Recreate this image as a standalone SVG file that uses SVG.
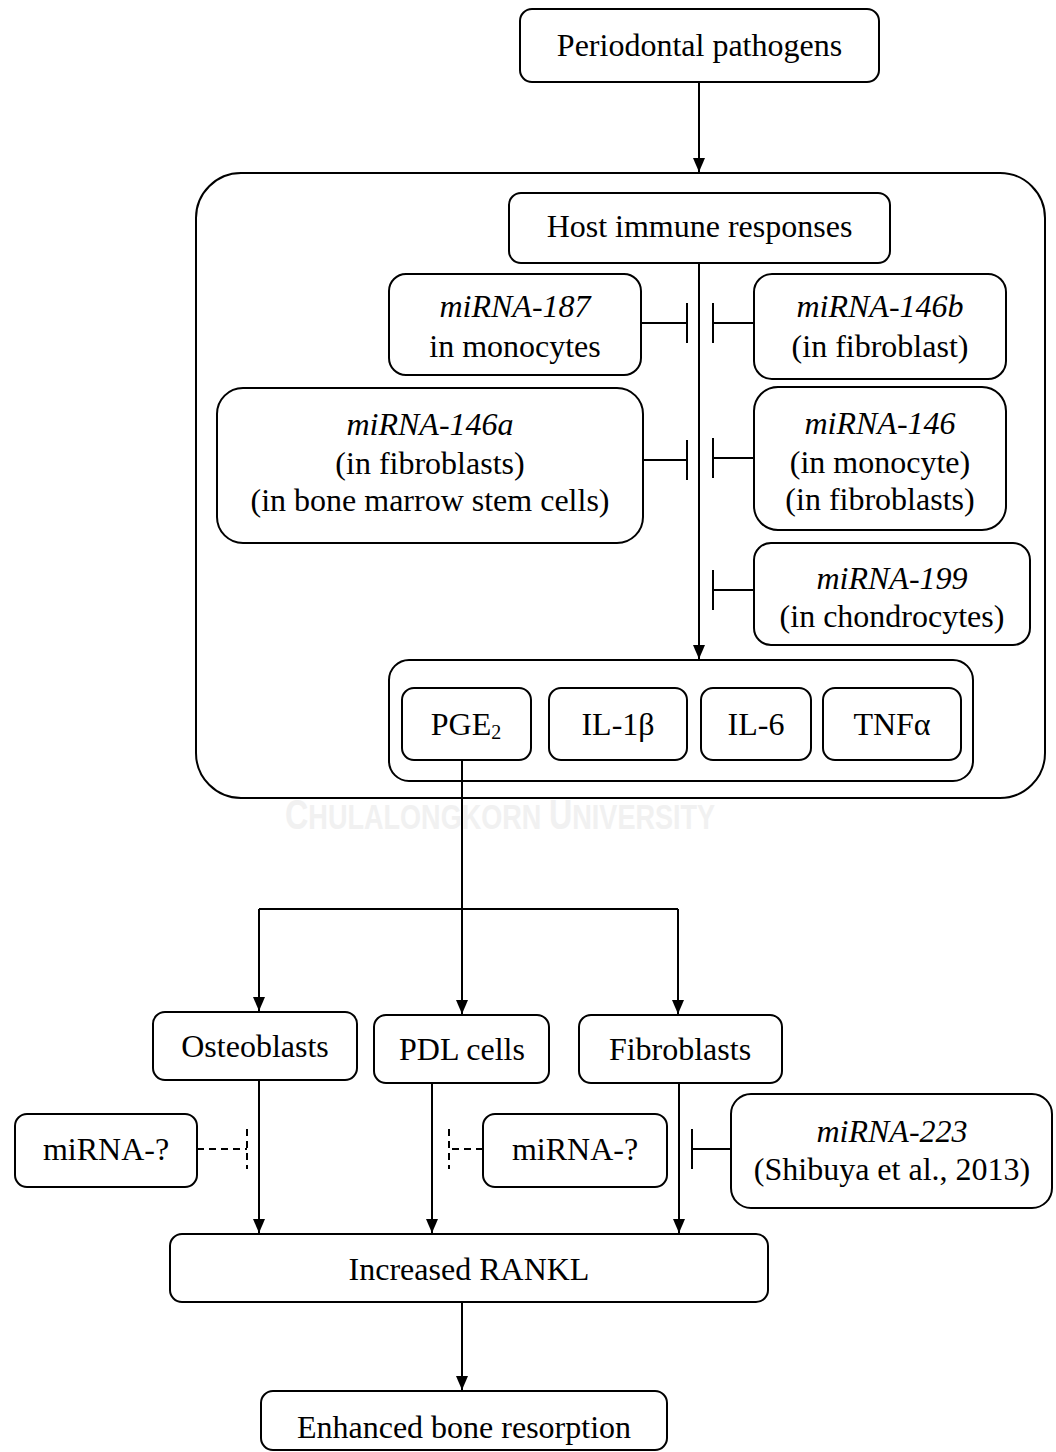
<svg xmlns="http://www.w3.org/2000/svg" width="1056" height="1452" viewBox="0 0 1056 1452">
<style>
.box{fill:#fff;stroke:#000;stroke-width:2}
.frame{fill:none;stroke:#000;stroke-width:2}
.t{font-family:"Liberation Serif","Times New Roman",serif;font-size:32px;fill:#000;text-anchor:middle}
.i{font-style:italic}
.ln{stroke:#000;stroke-width:2;fill:none}
.ds{stroke:#000;stroke-width:2;fill:none;stroke-dasharray:7,5}
.wm{font-family:"Liberation Sans",Arial,sans-serif;font-weight:bold;fill:#f1f1f1}
</style>
<defs>
<marker id="ah" markerWidth="14" markerHeight="18" refX="14" refY="6" orient="auto" markerUnits="userSpaceOnUse" viewBox="0 0 14 12">
<path d="M0,0 L14,6 L0,12 Z" fill="#000"/>
</marker>
</defs>
<rect width="1056" height="1452" fill="#fff"/>
<text class="wm" transform="translate(285,829) scale(0.752,1)" x="0" y="0"><tspan font-size="43">C</tspan><tspan font-size="36">HULALONGKORN </tspan><tspan font-size="43">U</tspan><tspan font-size="36">NIVERSITY</tspan></text>

<g id="container-host">
<rect class="frame" x="196" y="173" width="849" height="625" rx="45"/>
</g>
<g id="container-cytokines">
<rect class="box" x="389" y="660" width="584" height="121" rx="20"/>
</g>

<g id="connectors">
<line class="ln" x1="699" y1="82" x2="699" y2="172" marker-end="url(#ah)"/>
<line class="ln" x1="699" y1="263" x2="699" y2="659" marker-end="url(#ah)"/>
<path class="ln" d="M641,323 H687 M687,303 V343"/>
<path class="ln" d="M754,323 H713 M713,303 V343"/>
<path class="ln" d="M643,460 H687 M687,440 V480"/>
<path class="ln" d="M754,458 H713 M713,438 V478"/>
<path class="ln" d="M754,590 H713 M713,570 V610"/>
<line class="ln" x1="462" y1="760" x2="462" y2="1014" marker-end="url(#ah)"/>
<path class="ln" d="M259,909 H678"/>
<line class="ln" x1="259" y1="909" x2="259" y2="1011" marker-end="url(#ah)"/>
<line class="ln" x1="678" y1="909" x2="678" y2="1014" marker-end="url(#ah)"/>
<line class="ln" x1="259" y1="1080" x2="259" y2="1233" marker-end="url(#ah)"/>
<line class="ln" x1="432" y1="1083" x2="432" y2="1233" marker-end="url(#ah)"/>
<line class="ln" x1="679" y1="1083" x2="679" y2="1233" marker-end="url(#ah)"/>
<path class="ds" d="M197,1149 H247"/>
<path class="ds" d="M247,1129 V1169"/>
<path class="ds" d="M483,1149 H449"/>
<path class="ds" d="M449,1129 V1169"/>
<path class="ln" d="M731,1149 H692 M692,1129 V1169"/>
<line class="ln" x1="462" y1="1302" x2="462" y2="1390" marker-end="url(#ah)"/>
</g>

<g id="periodontal-pathogens">
<rect class="box" x="520" y="9" width="359" height="73" rx="12"/>
<text class="t" x="699.5" y="56">Periodontal pathogens</text>
</g>
<g id="host-immune-responses">
<rect class="box" x="509" y="193" width="381" height="70" rx="12"/>
<text class="t" x="699.5" y="237">Host immune responses</text>
</g>
<g id="mirna-187">
<rect class="box" x="389" y="274" width="252" height="101" rx="17"/>
<text class="t i" x="515" y="317">miRNA-187</text>
<text class="t" x="515" y="357">in monocytes</text>
</g>
<g id="mirna-146b">
<rect class="box" x="754" y="274" width="252" height="105" rx="18"/>
<text class="t i" x="880" y="317">miRNA-146b</text>
<text class="t" x="880" y="357">(in fibroblast)</text>
</g>
<g id="mirna-146a">
<rect class="box" x="217" y="388" width="426" height="155" rx="26"/>
<text class="t i" x="430" y="435">miRNA-146a</text>
<text class="t" x="430" y="474">(in fibroblasts)</text>
<text class="t" x="430" y="511">(in bone marrow stem cells)</text>
</g>
<g id="mirna-146">
<rect class="box" x="754" y="387" width="252" height="143" rx="24"/>
<text class="t i" x="880" y="434">miRNA-146</text>
<text class="t" x="880" y="473">(in monocyte)</text>
<text class="t" x="880" y="510">(in fibroblasts)</text>
</g>
<g id="mirna-199">
<rect class="box" x="754" y="543" width="276" height="102" rx="17"/>
<text class="t i" x="892" y="589">miRNA-199</text>
<text class="t" x="892" y="627">(in chondrocytes)</text>
</g>
<g id="pge2">
<rect class="box" x="402" y="688" width="129" height="72" rx="12"/>
<text class="t" x="466" y="735">PGE<tspan font-size="20" dy="4">2</tspan></text>
</g>
<g id="il-1b">
<rect class="box" x="549" y="688" width="138" height="72" rx="12"/>
<text class="t" x="618" y="735">IL-1β</text>
</g>
<g id="il-6">
<rect class="box" x="701" y="688" width="110" height="72" rx="12"/>
<text class="t" x="756" y="735">IL-6</text>
</g>
<g id="tnfa">
<rect class="box" x="823" y="688" width="138" height="72" rx="12"/>
<text class="t" x="892" y="735">TNFα</text>
</g>
<g id="osteoblasts">
<rect class="box" x="153" y="1012" width="204" height="68" rx="12"/>
<text class="t" x="255" y="1057">Osteoblasts</text>
</g>
<g id="pdl-cells">
<rect class="box" x="374" y="1015" width="175" height="68" rx="12"/>
<text class="t" x="462" y="1060">PDL cells</text>
</g>
<g id="fibroblasts">
<rect class="box" x="579" y="1015" width="203" height="68" rx="12"/>
<text class="t" x="680" y="1060">Fibroblasts</text>
</g>
<g id="mirna-unknown-1">
<rect class="box" x="15" y="1114" width="182" height="73" rx="12"/>
<text class="t" x="106" y="1160">miRNA-?</text>
</g>
<g id="mirna-unknown-2">
<rect class="box" x="483" y="1114" width="184" height="73" rx="12"/>
<text class="t" x="575" y="1160">miRNA-?</text>
</g>
<g id="mirna-223">
<rect class="box" x="731" y="1094" width="321" height="114" rx="20"/>
<text class="t i" x="892" y="1142">miRNA-223</text>
<text class="t" x="892" y="1180">(Shibuya et al., 2013)</text>
</g>
<g id="increased-rankl">
<rect class="box" x="170" y="1234" width="598" height="68" rx="12"/>
<text class="t" x="469" y="1280">Increased RANKL</text>
</g>
<g id="enhanced-bone-resorption">
<rect class="box" x="261" y="1391" width="406" height="59" rx="12"/>
<text class="t" x="464" y="1438">Enhanced bone resorption</text>
</g>
</svg>
